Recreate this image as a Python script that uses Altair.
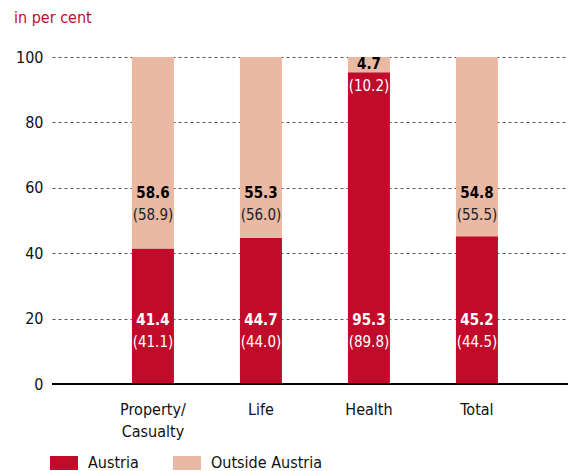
import altair as alt
import pandas as pd

categories = ["Property/Casualty", "Life", "Health", "Total"]
austria = [41.4, 44.7, 95.3, 45.2]
austria_prev = [41.1, 44.0, 89.8, 44.5]
outside = [58.6, 55.3, 4.7, 54.8]
outside_prev = [58.9, 56.0, 10.2, 55.5]
series = ["Austria", "Outside Austria"]

RED = "#c20a2b"
PINK = "#e9b9a3"
FONT = "'DejaVu Sans Condensed', sans-serif"

rows = []
for i, c in enumerate(categories):
    rows.append({"cat": c, "series": series[0], "value": austria[i], "prev": austria_prev[i], "order": 0})
    rows.append({"cat": c, "series": series[1], "value": outside[i], "prev": outside_prev[i], "order": 1})
df = pd.DataFrame(rows)
df["cur_txt"] = df["value"].map(lambda v: f"{v:.1f}")
df["prev_txt"] = df["prev"].map(lambda v: f"({v:.1f})")
df["lab_y"] = [19.5 if s == "Austria" else (58.5 if v > 15 else 98.0)
               for s, v in zip(df["series"], df["value"])]
df["cur_col"] = ["white" if s == "Austria" else "black" for s in df["series"]]
df["prev_col"] = ["white" if (s == "Austria" or v < 15) else "#222222"
                  for s, v in zip(df["series"], df["value"])]

xscale = alt.Scale(domain=categories, paddingInner=0.61, paddingOuter=0.694, align=0.533)
x = alt.X("cat:N", scale=xscale, sort=categories, title=None,
          axis=alt.Axis(labelAngle=0, labelPadding=17, ticks=False, domain=False,
                        labelFontSize=16, labelColor="#111111", labelFont=FONT,
                        labelLineHeight=22, labelBaseline="top",
                        labelExpr="datum.label == 'Property/Casualty' ? ['Property/', 'Casualty'] : datum.label"))

bars = alt.Chart(df).mark_bar(size=42).encode(
    x=x,
    y=alt.Y("value:Q", stack="zero", scale=alt.Scale(domain=[0, 100]), title=None,
            axis=alt.Axis(values=[0, 20, 40, 60, 80, 100], ticks=False, domain=False,
                          labelFontSize=16, labelColor="#111111", labelFont=FONT, labelPadding=9,
                          grid=True, gridDash=[3, 3], gridColor="#555555", gridWidth=1)),
    color=alt.Color("series:N", scale=alt.Scale(domain=series, range=[RED, PINK]),
                    legend=alt.Legend(title=None, orient="none", direction="horizontal",
                                      legendX=-2, legendY=392,
                                      symbolType="M-1,-0.5H1V0.5H-1Z", symbolSize=784,
                                      symbolStrokeWidth=0, symbolOpacity=1,
                                      labelFontSize=16, labelFont=FONT, labelColor="#111111",
                                      labelOffset=10, columnPadding=34)),
    order=alt.Order("order:Q"),
)

cur = alt.Chart(df).mark_text(fontSize=15, fontWeight="bold", font=FONT).encode(
    x=alt.X("cat:N", scale=xscale, sort=categories),
    y=alt.Y("lab_y:Q"),
    text="cur_txt:N",
    color=alt.Color("cur_col:N", scale=None),
)
prev = alt.Chart(df).mark_text(fontSize=15, font=FONT, dy=22).encode(
    x=alt.X("cat:N", scale=xscale, sort=categories),
    y=alt.Y("lab_y:Q"),
    text="prev_txt:N",
    color=alt.Color("prev_col:N", scale=None),
)

base = alt.Chart(pd.DataFrame({"y": [0]})).mark_rule(color="black", strokeWidth=2).encode(
    y="y:Q")

chart = alt.layer(bars, cur, prev, base).properties(
    width=516, height=327,
    autosize=alt.AutoSizeParams(type="none"),
    padding={"left": 44, "top": 49, "right": 0, "bottom": 100},
    title=alt.TitleParams("in per cent", anchor="start", frame="group", dx=-38, offset=23,
                          fontSize=16, fontWeight="normal", color=RED, font=FONT),
).configure_view(stroke=None)

chart.save("out.html", embed_options={"renderer": "svg", "actions": False})
